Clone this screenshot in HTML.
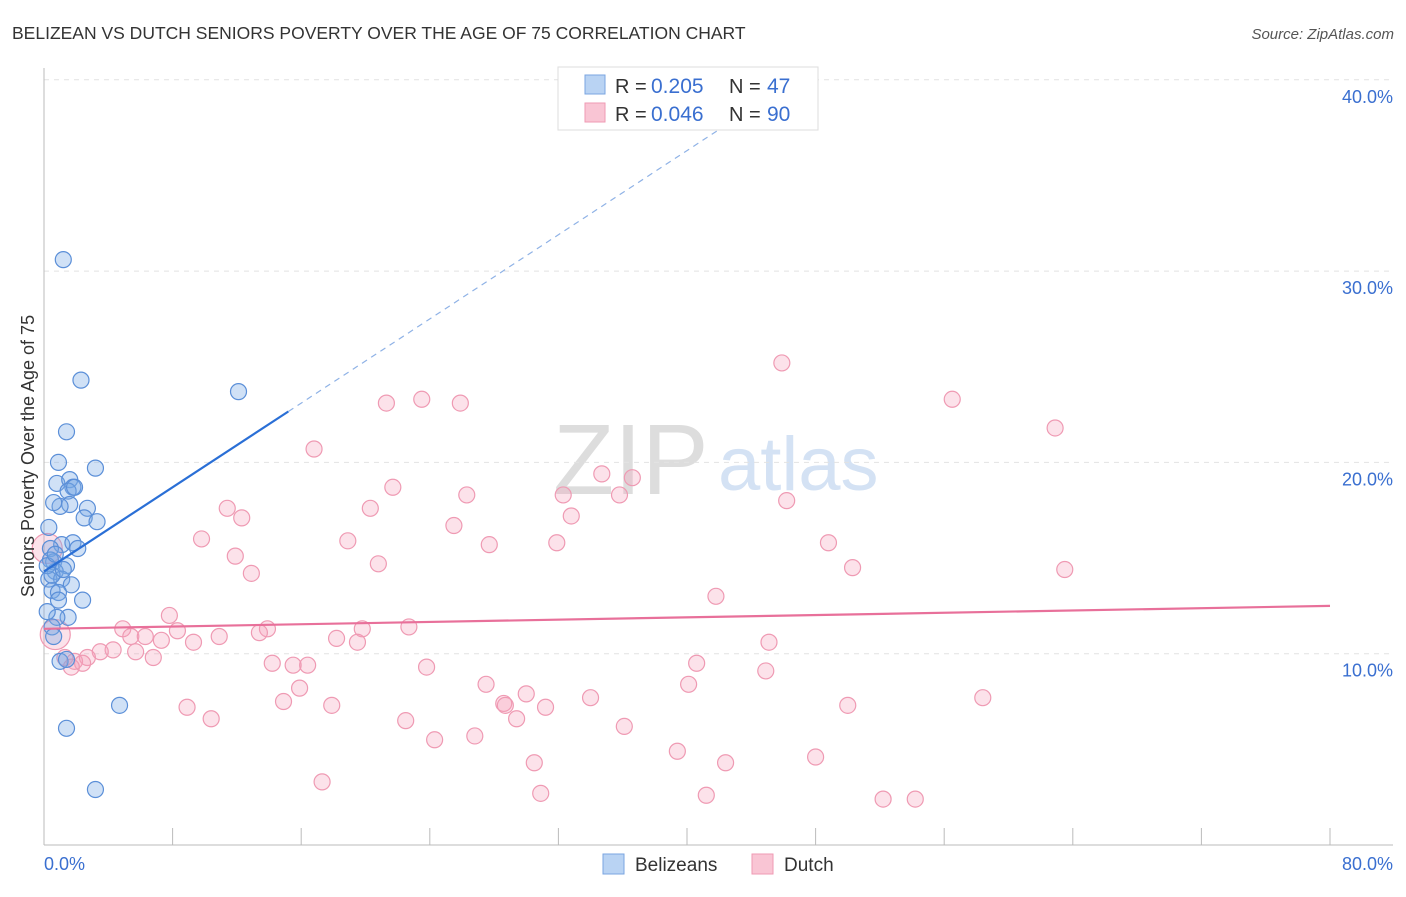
<!DOCTYPE html>
<html><head><meta charset="utf-8"><style>
body{margin:0;background:#fff;font-family:"Liberation Sans",sans-serif}
svg text{font-family:"Liberation Sans",sans-serif}
</style></head><body>
<svg id="chart" width="1406" height="892">
<text x="12" y="39" font-size="17.5" fill="#333">BELIZEAN VS DUTCH SENIORS POVERTY OVER THE AGE OF 75 CORRELATION CHART</text>
<text x="1394" y="39" font-size="15" fill="#555" font-style="italic" text-anchor="end">Source: ZipAtlas.com</text>
<text x="553" y="494" font-size="100" fill="#ddd" font-family="Liberation Serif">ZIP</text>
<text x="718" y="490" font-size="76" fill="#d4e2f4">atlas</text>
<g id="grid"></g><g id="marks"></g>
<text transform="translate(34,456) rotate(-90)" font-size="18" fill="#333" text-anchor="middle">Seniors Poverty Over the Age of 75</text>
<text x="44" y="870" font-size="18" fill="#3a6fd0">0.0%</text>
<text x="1393" y="870" font-size="18" fill="#3a6fd0" text-anchor="end">80.0%</text>
<g>
<rect x="558" y="67" width="260" height="63" fill="#fff" stroke="#ddd"/>
<rect x="585" y="75" width="20" height="19" fill="#b9d3f3" stroke="#7aa5e0"/>
<rect x="585" y="103" width="20" height="19" fill="#f9c5d4" stroke="#ef9ab3"/>
<text x="615" y="93" font-size="20" fill="#333">R =</text>
<text x="651" y="93" font-size="21" fill="#3a6fd0">0.205</text>
<text x="729" y="93" font-size="20" fill="#333">N =</text>
<text x="767" y="93" font-size="21" fill="#3a6fd0">47</text>
<text x="615" y="121" font-size="20" fill="#333">R =</text>
<text x="651" y="121" font-size="21" fill="#3a6fd0">0.046</text>
<text x="729" y="121" font-size="20" fill="#333">N =</text>
<text x="767" y="121" font-size="21" fill="#3a6fd0">90</text>
</g>
<g>
<rect x="603" y="854" width="21" height="20" fill="#b9d3f3" stroke="#7aa5e0"/>
<text x="635" y="871" font-size="19" fill="#333">Belizeans</text>
<rect x="752" y="854" width="21" height="20" fill="#f9c5d4" stroke="#ef9ab3"/>
<text x="784" y="871" font-size="19" fill="#333">Dutch</text>
</g>
</svg>
<script>
const yTicks=[10,20,30,40];
const yTickLabels=["10.0%","20.0%","30.0%","40.0%"];
const xTicks=[8,16,24,32,40,48,56,64,72,80];
const blueX=[1.2,2.3,1.4,3.2,0.9,0.8,1.6,1.8,1.5,1.9,2.7,1.6,1.0,0.6,2.5,3.3,0.3,1.1,1.8,2.1,0.4,0.6,1.4,0.7,0.3,1.1,1.7,0.5,0.9,2.4,1.5,0.8,0.5,0.6,1.0,1.4,4.7,1.4,3.2,12.1,0.4,0.2,0.5,0.7,1.2,0.9,0.2];
const blueY=[30.6,24.3,21.6,19.7,20.0,18.9,19.1,18.7,18.5,18.7,17.6,17.8,17.7,17.9,17.1,16.9,16.6,15.7,15.8,15.5,15.5,14.8,14.6,14.3,13.9,13.9,13.6,13.3,13.2,12.8,11.9,11.9,11.4,10.9,9.6,9.7,7.3,6.1,2.9,23.7,14.9,14.6,14.1,15.2,14.4,12.8,12.2];
const pinkX=[45.9,56.5,62.9,23.5,21.3,25.9,16.8,34.7,36.6,21.7,26.3,32.3,35.8,46.2,11.4,20.3,12.3,32.8,25.5,9.8,18.9,27.7,31.9,48.8,11.9,20.8,50.3,63.5,12.9,41.8,7.8,4.9,13.9,19.8,22.7,5.4,6.3,8.3,10.9,13.4,18.2,19.5,45.1,9.3,7.3,4.3,3.5,2.7,5.7,6.8,1.3,1.9,2.4,14.2,15.5,16.4,23.8,40.6,44.9,15.9,27.5,40.1,30.0,14.9,17.9,8.9,28.6,28.7,31.2,34.0,50.0,58.4,10.4,22.5,29.4,36.1,24.3,26.8,39.4,42.4,48.0,30.5,17.3,30.9,41.2,52.2,54.2,0.7,0.2,1.7];
const pinkY=[25.2,23.3,21.8,23.3,23.1,23.1,20.7,19.4,19.2,18.7,18.3,18.3,18.3,18.0,17.6,17.6,17.1,17.2,16.7,16.0,15.9,15.7,15.8,15.8,15.1,14.7,14.5,14.4,14.2,13.0,12.0,11.3,11.3,11.3,11.4,10.9,10.9,11.2,10.9,11.1,10.8,10.6,10.6,10.6,10.7,10.2,10.1,9.8,10.1,9.8,9.8,9.6,9.5,9.5,9.4,9.4,9.3,9.5,9.1,8.2,8.4,8.4,7.9,7.5,7.3,7.2,7.4,7.3,7.2,7.7,7.3,7.7,6.6,6.5,6.6,6.2,5.5,5.7,4.9,4.3,4.6,4.3,3.3,2.7,2.6,2.4,2.4,11.0,15.5,9.3];
const pinkBig=[87,88];
const blueTrend=[14.3,0.55];
const pinkTrend=[11.3,0.015];
const X=v=>44+v*1286/80, Y=v=>845-v*19.13;
const NS="http://www.w3.org/2000/svg";
function mk(p,t,a){const e=document.createElementNS(NS,t);for(const k in a)e.setAttribute(k,a[k]);p.appendChild(e);return e;}
const g=document.getElementById('grid'), m=document.getElementById('marks');
yTicks.forEach((t,i)=>{
 const l=mk(g,'line',{x1:44,x2:1393,y1:Y(t),y2:Y(t),stroke:'#e2e2e2','stroke-dasharray':'5,5'});
 
 
 const tx=mk(g,'text',{x:1393,y:Y(t)+23,'font-size':18,fill:'#3a6fd0','text-anchor':'end'});
 tx.textContent=yTickLabels[i];
 
 
});
const ax=mk(g,'line',{x1:44,x2:1393,y1:845,y2:845,stroke:'#bbb'});


const ay=mk(g,'line',{x1:44,x2:44,y1:68,y2:845,stroke:'#bbb'});


xTicks.forEach(t=>{const l=mk(g,'line',{x1:X(t),x2:X(t),y1:828,y2:845,stroke:'#bbb'});
 
 });
pinkX.forEach((v,i)=>{const c=mk(m,'circle',{cx:X(v),cy:Y(pinkY[i]),r:pinkBig.includes(i)?15:8,fill:'rgba(244,160,186,0.3)',stroke:'#ef9ab3','stroke-width':1.2});
 
 });
blueX.forEach((v,i)=>{const c=mk(m,'circle',{cx:X(v),cy:Y(blueY[i]),r:8,fill:'rgba(120,170,230,0.35)',stroke:'#5b8fd8','stroke-width':1.2});
 
 });
const xEndSolid=15.2, xTop=(40.2-blueTrend[0])/blueTrend[1];
const b1=mk(m,'line',{x1:X(0),y1:Y(blueTrend[0]),x2:X(xEndSolid),y2:Y(blueTrend[0]+blueTrend[1]*xEndSolid),stroke:'#2a6fd6','stroke-width':2.2});


const b2=mk(m,'line',{x1:X(xEndSolid),y1:Y(blueTrend[0]+blueTrend[1]*xEndSolid),x2:X(xTop),y2:Y(40.2),stroke:'#8fb2e6','stroke-width':1.2,'stroke-dasharray':'6,5'});


const p1=mk(m,'line',{x1:X(0),y1:Y(pinkTrend[0]),x2:X(80),y2:Y(pinkTrend[0]+pinkTrend[1]*80),stroke:'#e8709a','stroke-width':2.2});


</script>
</body></html>
